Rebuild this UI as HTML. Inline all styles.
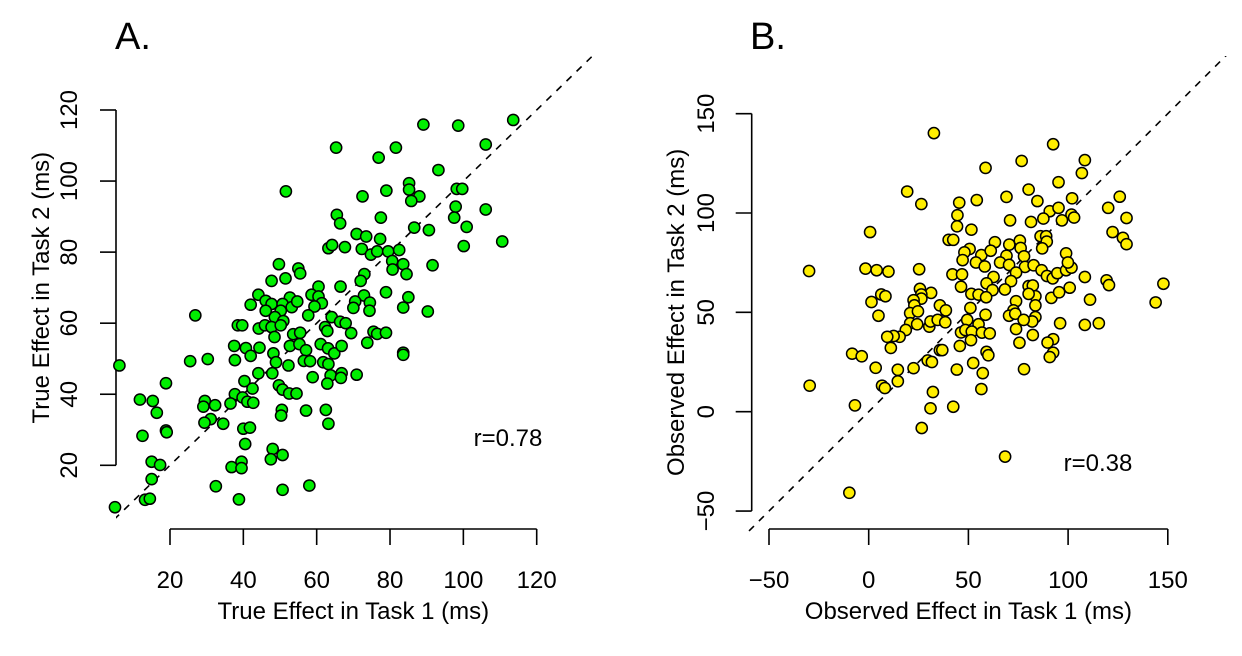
<!DOCTYPE html>
<html><head><meta charset="utf-8"><style>
html,body{margin:0;padding:0;background:#fff;}
svg{display:block;font-family:"Liberation Sans",Arial,sans-serif;}
</style></head><body>
<svg id="chart" width="1242" height="656" viewBox="0 0 1242 656">
<defs>
<clipPath id="clipA"><rect x="116" y="56" width="476" height="478"/></clipPath>
<clipPath id="clipB"><rect x="748" y="56" width="480" height="478"/></clipPath>
</defs>
<text x="115" y="49" font-size="38">A.</text>
<text x="750" y="49" font-size="38">B.</text>
<g id="panelA"></g>
<g id="panelB"></g>
</svg>
<script>
// Panel A data
const aX=[89.1,98.6,113.6,65.3,81.6,76.9,106.1,93.2,51.6,79,85.2,85.2,88,85.8,72.5,98.2,99.7,97.9,97.5,106.1,65.5,66.4,77.5,86.6,90.6,100.9,100.1,110.6,70.9,73.5,77.3,63.2,64.2,67.7,72.3,74.8,76.5,79.5,82.5,80.6,83.6,80.7,84.5,91.6,73,72,49.7,55,55.5,51.5,47.7,66.5,60.5,58.6,60.5,61.4,59.4,57.7,78.9,85,83.6,90.3,72.9,70.5,74.5,70,74.4,44.1,46.1,47.7,42,52.7,50.7,53.2,54.7,46.1,50.2,48.6,50.9,26.9,38.5,39.7,44.2,45.9,47.7,50.2,48.5,53.6,55.5,64.1,62.3,62.9,66.4,67.9,69.4,75.5,76.5,78.9,37.5,40.7,42,44.4,52.7,55.3,57.1,61.1,63.1,64.8,66.8,73.8,83.6,83.6,48.2,48.9,52.3,56.5,58.2,61.8,63.2,25.5,30.3,37.7,6.2,44.1,47.9,58.9,63.8,66.8,66.6,62.9,70.9,40.3,18.9,42.5,49.7,50.7,52.5,54.5,37.7,39.8,41.1,42.7,11.8,15.3,16.4,29.5,29.1,32.3,36.5,31.1,29.4,34.5,50.5,50.3,57.1,62.5,63.2,40,41.8,40.5,18.9,19.1,12.5,15,17.3,36.8,39.5,39.5,48,50.7,47.5,15,32.5,50.7,58,38.8,13.2,14.5,5];
const aY=[115.9,115.6,117.2,109.4,109.4,106.6,110.3,103.1,97.1,97.3,99.4,97.6,95.7,94.4,95.7,97.8,97.8,92.8,89.7,92,90.5,88.1,89.7,86.9,86.2,87.1,81.7,83,85.1,84.4,83.7,81.1,82,81.4,80.9,79.3,80.2,80.2,80.6,77.5,76.6,75.1,73.8,76.3,73.8,71.9,76.6,75.4,74,72.6,71.9,70.3,70.3,68,67.5,65.6,64.7,62.2,68.7,67.3,64.4,63.3,67.8,66.1,65.8,64.3,63.5,68,66.3,65.4,65.2,67.2,65.4,64.5,66.1,63.5,63.5,61.7,60.6,62.2,59.4,59.4,58.5,59.4,58.9,59.4,56.1,56.9,57.3,61.7,58.9,57.8,60.4,60,57.2,57.6,57,57.3,53.6,53,50.8,53.1,53.6,54.1,52.4,54.1,52.9,51.5,53.6,54.5,51.7,51.1,51.5,49,48.1,49.4,49.3,49,48.5,49.3,49.9,49.6,48.1,45.9,45.9,44.8,45.3,45.9,44.6,43,45.5,43.7,43.1,41.6,42.5,41.3,40.2,40.2,40,39.1,37.9,37.6,38.5,38.1,34.8,38.1,36.5,36.9,37.4,33,32,31.7,35.6,34,35.4,35.6,31.7,30.3,30.6,26,29.8,29.3,28.3,21,20.1,19.5,21,19.2,24.6,22.9,21.7,16.1,14.1,13.1,14.3,10.4,10.3,10.6,8.2];
const aXTicks=[20,40,60,80,100,120];
const aYTicks=[20,40,60,80,100,120];
// Panel B data
const bX=[32.7,92.5,76.7,108.4,58.6,106.9,95.2,19.3,80.2,69.1,54.2,84.6,125.9,26.4,45.4,102,90.8,95.2,120.1,44.5,101.7,103,96.9,70.9,81.4,87.6,129.3,44.3,51.5,0.7,122.3,127.5,129.3,40.1,42.4,63.3,70.5,75.8,86.2,89,89.3,87,76.2,50.6,48,56.5,61.2,69.1,77.9,99,47.1,53.8,58.2,65.9,70.4,78.4,82.7,86.7,89.4,92.3,94.6,99,101.7,99.9,108.4,119.3,120.5,147.8,143.9,73.9,71.4,62.6,59.1,62.1,68.3,80.2,82.3,83.6,80.2,91.6,95.5,100.8,111,-1.6,4,9.9,-29.9,25.3,42,46.8,46.3,51.5,55.1,58.9,31.3,25.7,26.4,26.4,22.5,22.9,6.3,8.4,1.4,4.9,35.7,38.7,51,58.6,73.9,72.6,70.4,73.5,83.6,83.6,82,77.7,20.8,24.7,20.8,24.3,30.4,31,34.6,38.4,18.6,15.5,12.5,9.3,11.1,49.4,55.1,46.3,48.5,51.7,51.3,56.8,60.7,45.7,35.7,36.9,73.9,75.6,82.3,96,108.4,115.4,92.5,89.7,92.5,90.8,59.1,60,-8.3,-3.5,29.6,31.7,22.5,3.5,14.6,44.2,52.4,57.2,77.9,14.6,6.7,8.1,-29.6,56.5,32.2,-6.9,31,42.4,26.6,68.4,-9.7];
const bY=[140.2,134.6,126.2,126.6,122.7,120.1,115.5,110.8,111.8,108.1,106.5,106,108.2,104.5,105.2,107.4,100.9,102.6,102.6,98.9,99.2,97.7,96.3,96.3,95.5,97.2,97.5,93.3,91.6,90.4,90.4,87.5,84.3,86.5,86.5,85.3,84.1,86.1,88.3,88.3,85.6,82.2,82.4,81.9,80.2,78.8,81,78.5,78.2,79.7,76.3,75.1,73.1,75.1,73.9,72.9,73.7,71.2,68.3,67.1,69.7,71.2,72.5,75.1,67.8,66.1,63.7,64.4,55,70,65.7,67.8,64.6,61.2,61.5,63.2,63.5,58.1,59.3,57.3,60.1,62.4,56.4,72,71.2,70.5,70.8,71.7,69.1,69.1,62.9,59.3,58.9,57.6,59.8,61.8,59,56.9,56.1,53.5,59,58.1,55.2,48.3,53.5,51,52.2,48.8,55.6,51,48.3,49.3,53.5,47.6,45.4,46.2,49.6,50.5,44.5,44,42.8,45.4,46.2,45,41.1,37.7,38.1,37.7,32.1,46.2,44,39.9,41.1,40.3,36,39.8,39.4,33.1,31,31,41.6,34.7,38.6,44.5,43.7,44.5,36.5,34.8,29.7,27.5,30.1,28.4,29.2,27.9,25.8,25,21.9,22.1,21.1,21.2,24.5,19.4,21.4,15.3,13.1,11.9,13.1,11.4,9.9,3.2,1.7,2.5,-8.2,-22.6,-40.8];
const bXTicks=[-50,0,50,100,150];
const bYTicks=[-50,0,50,100,150];

const NS='http://www.w3.org/2000/svg';
function mk(parent,tag,attrs,text){const e=document.createElementNS(NS,tag);for(const k in attrs)e.setAttribute(k,attrs[k]);if(text!==undefined)e.textContent=text;parent.appendChild(e);return e;}

function drawPanel(g,cfg){
  const {xs,ys,xv,yv,xt,yt,axisY,axisX,fill,clip,lineFrom,lineTo,xTitle,yTitle,yTitleX,yLabX,rText,rX,rY,pfx}=cfg;
  const ln=mk(g,'line',{x1:xs(lineFrom),y1:ys(lineFrom),x2:xs(lineTo),y2:ys(lineTo),stroke:'#000','stroke-width':1.6,'stroke-dasharray':'7,7','clip-path':'url(#'+clip+')'});
  
  
  const xa=mk(g,'line',{x1:xs(xt[0]),y1:axisY,x2:xs(xt[xt.length-1]),y2:axisY,stroke:'#000','stroke-width':1.6});
  
  
  xt.forEach(v=>{
    mk(g,'line',{x1:xs(v),y1:axisY,x2:xs(v),y2:axisY+16,stroke:'#000','stroke-width':1.6});
    const t=mk(g,'text',{x:xs(v),y:axisY+59,'font-size':24,'text-anchor':'middle'},v<0?'\u2212'+Math.abs(v):String(v));
    
    
  });
  const xtl=mk(g,'text',{x:(xs(xt[0])+xs(xt[xt.length-1]))/2,y:axisY+90,'font-size':24,'text-anchor':'middle'},xTitle);
  
  
  const ya=mk(g,'line',{x1:axisX,y1:ys(yt[0]),x2:axisX,y2:ys(yt[yt.length-1]),stroke:'#000','stroke-width':1.6});
  
  
  yt.forEach(v=>{
    mk(g,'line',{x1:axisX-16,y1:ys(v),x2:axisX,y2:ys(v),stroke:'#000','stroke-width':1.6});
    const t=mk(g,'text',{x:0,y:0,'font-size':24,'text-anchor':'middle',transform:'translate('+(yLabX+9)+','+ys(v)+') rotate(-90)'},v<0?'\u2212'+Math.abs(v):String(v));
    
    
  });
  const ytl=mk(g,'text',{x:0,y:0,'font-size':24,'text-anchor':'middle',transform:'translate('+(yTitleX+9)+','+(ys(yt[0])+ys(yt[yt.length-1]))/2+') rotate(-90)'},yTitle);
  
  
  xv.forEach((v,i)=>{
    const c=mk(g,'circle',{cx:xs(v),cy:ys(yv[i]),r:5.6,fill:fill,stroke:'#000','stroke-width':1.5});
    
    
  });
  const r=mk(g,'text',{x:rX,y:rY,'font-size':24,'text-anchor':'middle'},rText);
  
  
}

drawPanel(document.getElementById('panelA'),{
  xs:v=>170+(v-20)*3.667, ys:v=>465.3-(v-20)*3.553, xv:aX, yv:aY, xt:aXTicks, yt:aYTicks,
  axisY:529, axisX:116, fill:'#00ee00', clip:'clipA', lineFrom:2, lineTo:140,
  xTitle:'True Effect in Task 1 (ms)', yTitle:'True Effect in Task 2 (ms)', yTitleX:40, yLabX:68,
  rText:'r=0.78', rX:508, rY:446, pfx:'panel-a'
});
drawPanel(document.getElementById('panelB'),{
  xs:v=>868.7+v*1.994, ys:v=>411.7-v*1.987, xv:bX, yv:bY, xt:bXTicks, yt:bYTicks,
  axisY:529, axisX:751.7, fill:'#ffee00', clip:'clipB', lineFrom:-65, lineTo:200,
  xTitle:'Observed Effect in Task 1 (ms)', yTitle:'Observed Effect in Task 2 (ms)', yTitleX:675, yLabX:705,
  rText:'r=0.38', rX:1098, rY:471, pfx:'panel-b'
});
</script>
</body></html>
